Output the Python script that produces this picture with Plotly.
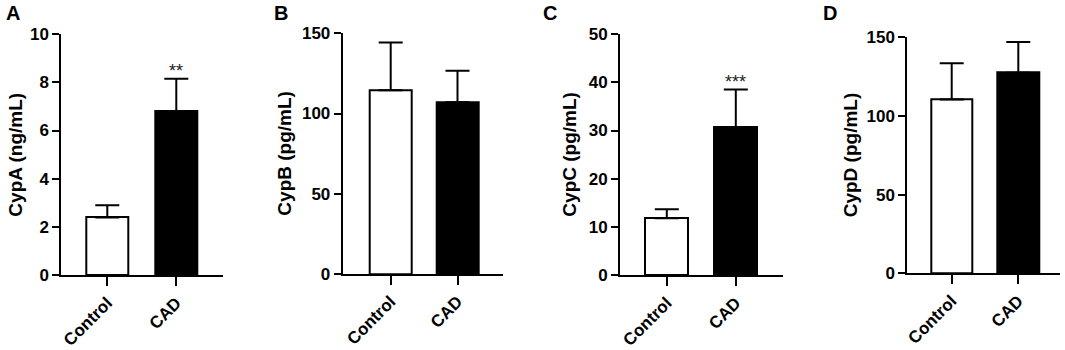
import plotly.graph_objects as go

categories = ["Control", "CAD"]
panel_letters = ["A", "B", "C", "D"]
y_titles = ["CypA (ng/mL)", "CypB (pg/mL)", "CypC (pg/mL)", "CypD (pg/mL)"]
means_A = [2.4, 6.8]
err_A = [0.5, 1.35]
means_B = [114.5, 107.0]
err_B = [29.7, 19.7]
means_C = [11.8, 30.7]
err_C = [1.9, 7.8]
means_D = [110.5, 127.5]
err_D = [23.0, 19.5]
stars = ["", "**"], ["", ""], ["", "***"], ["", ""]
ticks_A = [0, 2, 4, 6, 8, 10]
ticks_B = [0, 50, 100, 150]
ticks_C = [0, 10, 20, 30, 40, 50]
ticks_D = [0, 50, 100, 150]

W, H = 1065, 350
# pixel layout: (yaxis x, control center, cad center, xaxis end, y0 px, ytop px)
layout_px = [
    (61.3, 107.3, 176.3, 222.7, 275.3, 34.0),
    (342.7, 390.7, 457.5, 503.0, 274.0, 33.3),
    (620.0, 666.8, 735.8, 782.7, 275.3, 34.0),
    (907.3, 951.7, 1018.3, 1060.0, 273.3, 37.3),
]
letter_x = [4, 272, 541, 821]
title_x = [16, 285, 570, 850]

means = [means_A, means_B, means_C, means_D]
errs = [err_A, err_B, err_C, err_D]
ticks = [ticks_A, ticks_B, ticks_C, ticks_D]

fig = go.Figure()
font_fam = "Liberation Sans, Arial, sans-serif"
annotations = []
for i in range(4):
    ax_x, c0, c1, xend, y0, ytop = layout_px[i]
    sp = c1 - c0
    rng = [-(c0 - ax_x) / sp, 1 + (xend - c1) / sp]
    sfx = "" if i == 0 else str(i + 1)
    xa, ya = "x" + sfx, "y" + sfx
    fig.add_trace(go.Bar(
        x=[0, 1], y=means[i],
        marker=dict(color=["white", "black"], line=dict(color="black", width=2)),
        width=0.62,
        error_y=dict(type="data", array=errs[i], arrayminus=[0, 0], symmetric=False,
                     color="black", thickness=2, width=12),
        xaxis=xa, yaxis=ya, showlegend=False, hoverinfo="skip",
    ))
    fig.layout["xaxis" + sfx] = dict(
        domain=[ax_x / W, xend / W], range=rng, anchor=ya, automargin=False,
        tickmode="array", tickvals=[0, 1], ticktext=categories, tickangle=-45,
        showline=True, linecolor="black", linewidth=2, ticks="outside", ticklen=9,
        tickwidth=2, tickcolor="black", showgrid=False, zeroline=False,
        tickfont=dict(family=font_fam, size=17, color="black", weight="bold"),
    )
    fig.layout["yaxis" + sfx] = dict(
        domain=[(H - y0) / H, (H - ytop) / H], range=[0, ticks[i][-1]], anchor=xa,
        automargin=False,
        tickmode="array", tickvals=ticks[i],
        showline=True, linecolor="black", linewidth=2, ticks="outside", ticklen=7,
        tickwidth=2, tickcolor="black", showgrid=False, zeroline=False,
        tickfont=dict(family=font_fam, size=17, color="black", weight="bold"),
    )
    annotations.append(dict(
        x=title_x[i] / W, y=0.5, xref="paper", yref=ya + " domain",
        text=y_titles[i], textangle=-90, showarrow=False,
        xanchor="center", yanchor="middle",
        font=dict(family=font_fam, size=19, color="black", weight="bold"),
    ))
    for j in range(2):
        if stars[i][j]:
            annotations.append(dict(
                x=j, y=means[i][j] + errs[i][j], xref=xa, yref=ya,
                text=stars[i][j], showarrow=False, yanchor="bottom", yshift=-4,
                font=dict(family=font_fam, size=18, color="#222"),
            ))
    annotations.append(dict(
        x=letter_x[i] / W, y=1.0, xref="paper", yref="paper", xanchor="left", yanchor="top",
        text=panel_letters[i], showarrow=False,
        font=dict(family=font_fam, size=20, color="black", weight="bold"),
    ))

fig.update_layout(
    width=W, height=H, margin=dict(l=0, r=0, t=0, b=0),
    plot_bgcolor="white", paper_bgcolor="white", bargap=0,
    annotations=annotations,
)
fig.write_html("out.html", config={"displayModeBar": False},
               post_script="document.body.style.margin='0';document.body.style.overflow='hidden';")
